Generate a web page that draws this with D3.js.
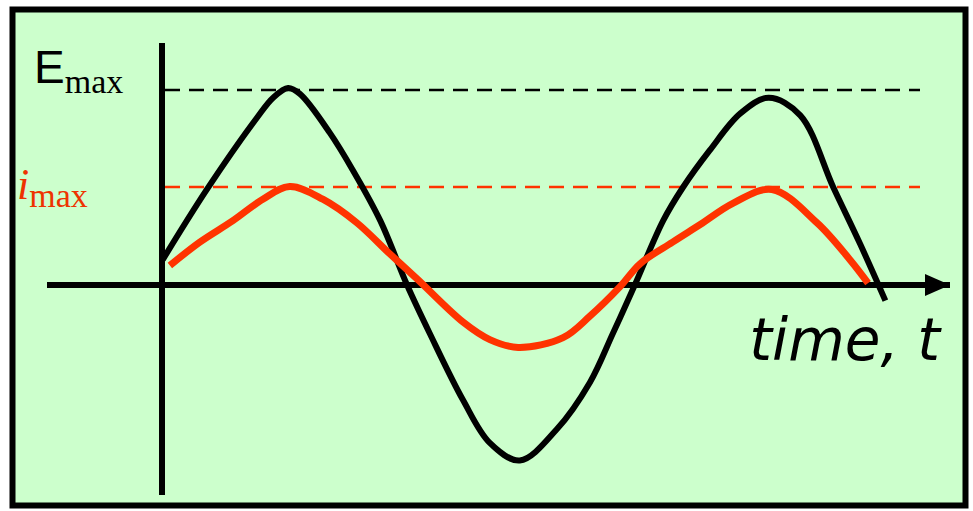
<!DOCTYPE html>
<html>
<head>
<meta charset="utf-8">
<script src="https://cdn.jsdelivr.net/npm/d3@7"></script>
<style>
  html, body { margin: 0; padding: 0; background: #fff; }
  svg { display: block; }
</style>
</head>
<body>
<svg id="chart"></svg>
<script>
// time in arbitrary units, values normalised so that E_max = 1
const emfT = [0.01, 0.57, 1.21, 1.41, 1.60, 1.75, 2.13, 2.42, 2.77, 3.11, 3.40, 3.82, 4.16, 4.54, 5.01, 5.43, 5.72, 6.00, 6.36, 6.61, 6.95, 7.34, 7.70, 8.10, 8.52, 8.86, 9.18];
const emfV = [0.13, 0.49, 0.86, 0.96, 1.01, 0.98, 0.78, 0.59, 0.33, 0.00, -0.25, -0.59, -0.81, -0.90, -0.74, -0.50, -0.25, 0.00, 0.33, 0.50, 0.69, 0.88, 0.96, 0.87, 0.50, 0.21, -0.08];
const curT = [0.10, 0.48, 0.90, 1.28, 1.62, 2.04, 2.47, 2.89, 3.24, 3.82, 4.16, 4.52, 5.09, 5.43, 5.81, 6.07, 6.48, 6.83, 7.25, 7.74, 8.31, 8.73, 8.96];
const curV = [0.10, 0.22, 0.33, 0.44, 0.505, 0.44, 0.32, 0.16, 0.03, -0.19, -0.28, -0.32, -0.27, -0.16, -0.01, 0.11, 0.22, 0.31, 0.42, 0.49, 0.32, 0.13, 0.01];
const eMax = 1.0;
const iMax = 0.503;

const W = 973, H = 511;
const svg = d3.select("#chart").attr("width", W).attr("height", H);

// frame
svg.append("rect")
  .attr("x", 12.5).attr("y", 9.5)
  .attr("width", 953).attr("height", 496)
  .attr("fill", "#ccffcc")
  .attr("stroke", "#000")
  .attr("stroke-width", 6);

let x = d3.scaleLinear().domain([0, 10]).range([162, 950]),
  y = d3.scaleLinear().domain([0, 1]).range([285, 90]);

svg.append("defs").append("marker")
  .attr("id", "arrow")
  .attr("viewBox", "0 0 25 22")
  .attr("refX", 25).attr("refY", 11)
  .attr("markerWidth", 25).attr("markerHeight", 22)
  .attr("markerUnits", "userSpaceOnUse")
  .attr("orient", "auto")
  .append("path")
  .attr("d", "M0,0L25,11L0,22Z")
  .attr("fill", "#000");

// dashed max lines
svg.append("line")
  .attr("x1", x(0) + 3).attr("x2", 920)
  .attr("y1", y(eMax)).attr("y2", y(eMax))
  .attr("stroke", "#000").attr("stroke-width", 2.5)
  .attr("stroke-dasharray", "15,9");

svg.append("line")
  .attr("x1", x(0) + 3).attr("x2", 920)
  .attr("y1", y(iMax)).attr("y2", y(iMax))
  .attr("stroke", "#ff3300").attr("stroke-width", 2.5)
  .attr("stroke-dasharray", "15,9");

// axes
svg.append("line")
  .attr("x1", 47).attr("x2", x(10))
  .attr("y1", y(0)).attr("y2", y(0))
  .attr("stroke", "#000").attr("stroke-width", 6)
  .attr("marker-end", "url(#arrow)");

svg.append("line")
  .attr("x1", x(0)).attr("x2", x(0))
  .attr("y1", 43).attr("y2", 495)
  .attr("stroke", "#000").attr("stroke-width", 6);

let line = d3.line()
  .x(d => x(d[0]))
  .y(d => y(d[1]))
  .curve(d3.curveCatmullRom.alpha(0.5));

svg.append("path")
  .datum(d3.zip(emfT, emfV))
  .attr("fill", "none")
  .attr("stroke", "#000")
  .attr("stroke-width", 6)
  .attr("stroke-linejoin", "round")
  .attr("d", line);

svg.append("path")
  .datum(d3.zip(curT, curV))
  .attr("fill", "none")
  .attr("stroke", "#ff3300")
  .attr("stroke-width", 7)
  .attr("stroke-linejoin", "round")
  .attr("d", line);

// labels
let eLab = svg.append("text")
  .attr("x", 34).attr("y", 83)
  .attr("fill", "#000");
eLab.append("tspan")
  .attr("font-family", "Liberation Sans, Arial, sans-serif")
  .attr("font-size", 46)
  .text("E");
eLab.append("tspan")
  .attr("font-family", "Liberation Serif, Times New Roman, serif")
  .attr("font-size", 34)
  .attr("dy", 10)
  .text("max");

let iLab = svg.append("text")
  .attr("x", 17).attr("y", 199)
  .attr("fill", "#ee3300");
iLab.append("tspan")
  .attr("font-family", "Liberation Serif, Times New Roman, serif")
  .attr("font-style", "italic")
  .attr("font-size", 44)
  .text("i");
iLab.append("tspan")
  .attr("font-family", "Liberation Serif, Times New Roman, serif")
  .attr("font-size", 34)
  .attr("dy", 8)
  .text("max");

svg.append("text")
  .attr("x", 940).attr("y", 360)
  .attr("text-anchor", "end")
  .attr("font-family", "Verdana, DejaVu Sans, sans-serif")
  .attr("font-style", "italic")
  .attr("font-size", 58)
  .attr("fill", "#000")
  .text("time, t");
</script>
</body>
</html>
